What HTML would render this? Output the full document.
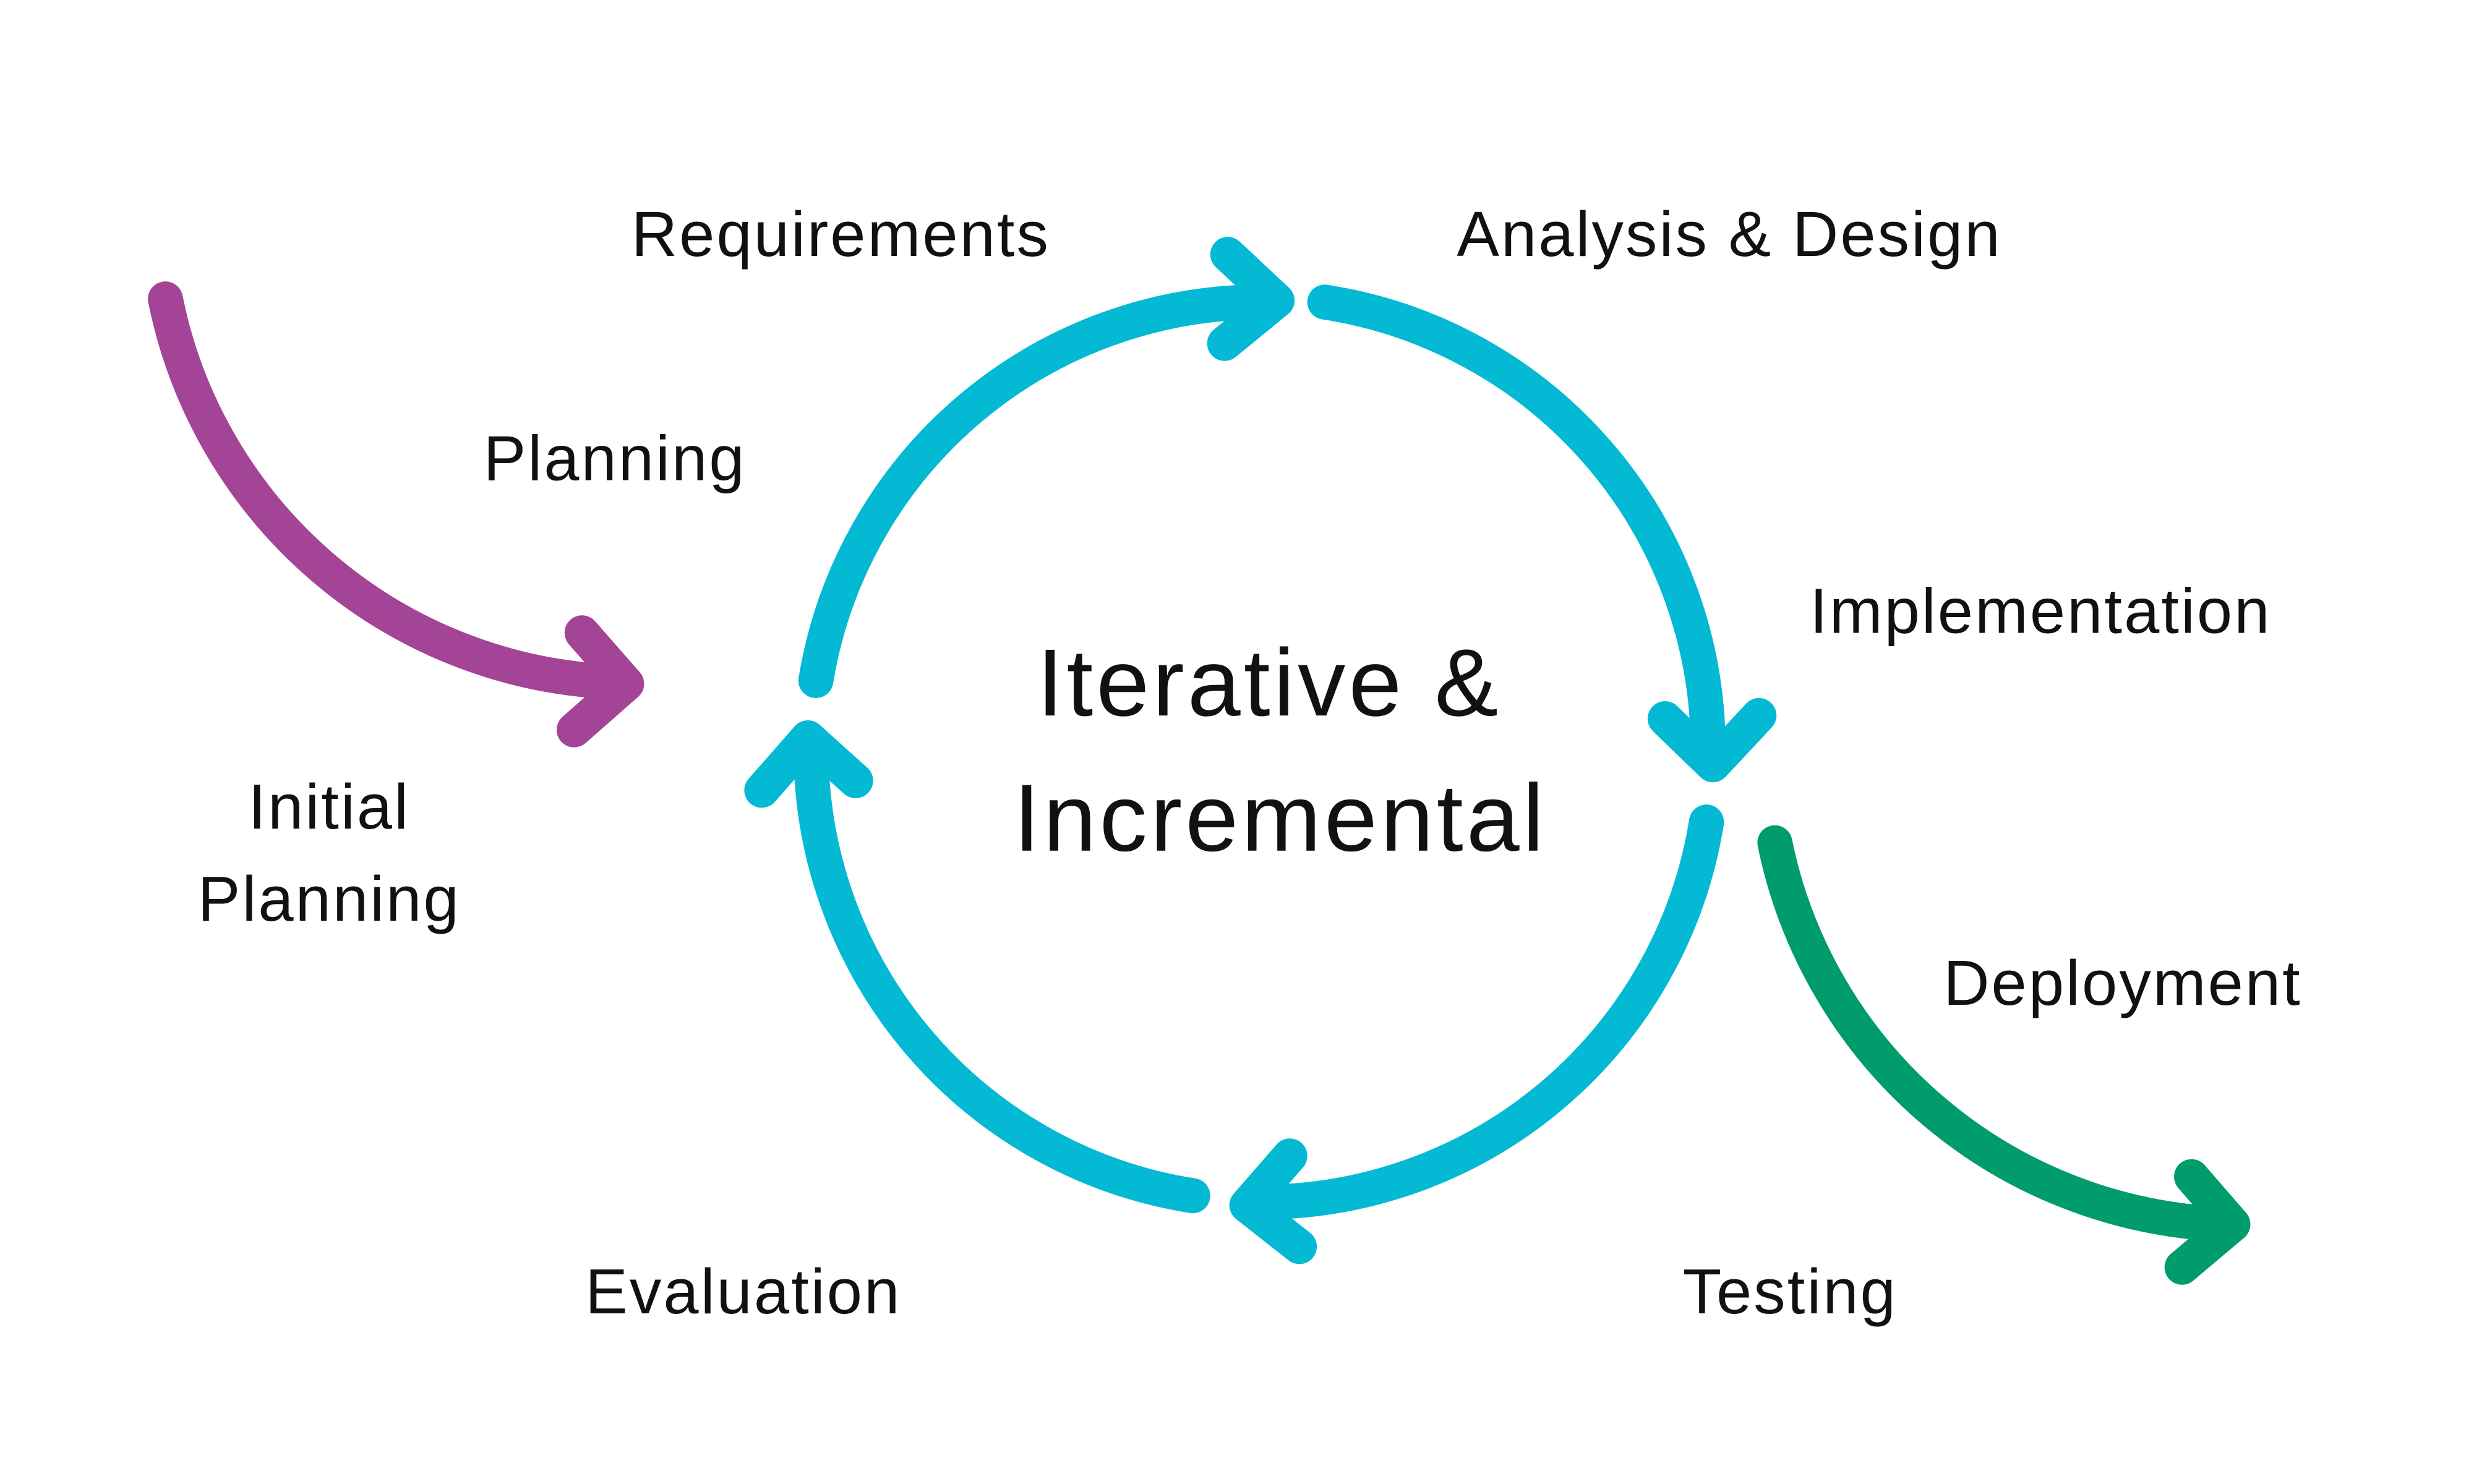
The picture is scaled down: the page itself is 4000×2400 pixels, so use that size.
<!DOCTYPE html>
<html><head><meta charset="utf-8"><style>
html,body{margin:0;padding:0;background:#fff;}
svg{display:block;}
text{font-family:"Liberation Sans",sans-serif;fill:#111;}
</style></head><body>
<svg width="4000" height="2400" viewBox="0 0 1555.6 933.3" preserveAspectRatio="none" xmlns="http://www.w3.org/2000/svg">
<rect width="1555.6" height="933.3" fill="#fff"/>
<g fill="none" stroke-linecap="round" stroke-linejoin="round" stroke-width="22">
<g stroke="#03B9D4">
<path d="M513,428 A284,284 0 0 1 800,190"/>
<path d="M772,160 L803,189 L770,216"/>
<path d="M833,190 A284,284 0 0 1 1074,470"/>
<path d="M1047,452 L1077,481 L1106,450"/>
<path d="M1073,517 A284,284 0 0 1 790,756"/>
<path d="M811,727 L784,758 L817,784"/>
<path d="M750,752 A284,284 0 0 1 510,470"/>
<path d="M479,497 L508,464 L538,491"/>
</g>
<g stroke="#A34497">
<path d="M104,188 A300,300 0 0 0 392,429"/>
<path d="M366,398 L394,430 L361,459"/>
</g>
<g stroke="#019C6E">
<path d="M1116,530 A300,300 0 0 0 1402,770"/>
<path d="M1378,740 L1404,770 L1372,797"/>
</g>
</g>
<g font-size="40" letter-spacing="1.2">
<text x="397" y="161">Requirements</text>
<text x="916" y="161">Analysis &amp; Design</text>
<text x="304" y="302">Planning</text>
<text x="1138" y="398">Implementation</text>
<text x="207" y="521" text-anchor="middle">Initial</text>
<text x="207" y="579" text-anchor="middle">Planning</text>
<text x="1222" y="632">Deployment</text>
<text x="368" y="826">Evaluation</text>
<text x="1058" y="826">Testing</text>
</g>
<g font-size="60" text-anchor="middle" letter-spacing="2">
<text x="798" y="450">Iterative &amp;</text>
<text x="805" y="535">Incremental</text>
</g>
</svg>
</body></html>
